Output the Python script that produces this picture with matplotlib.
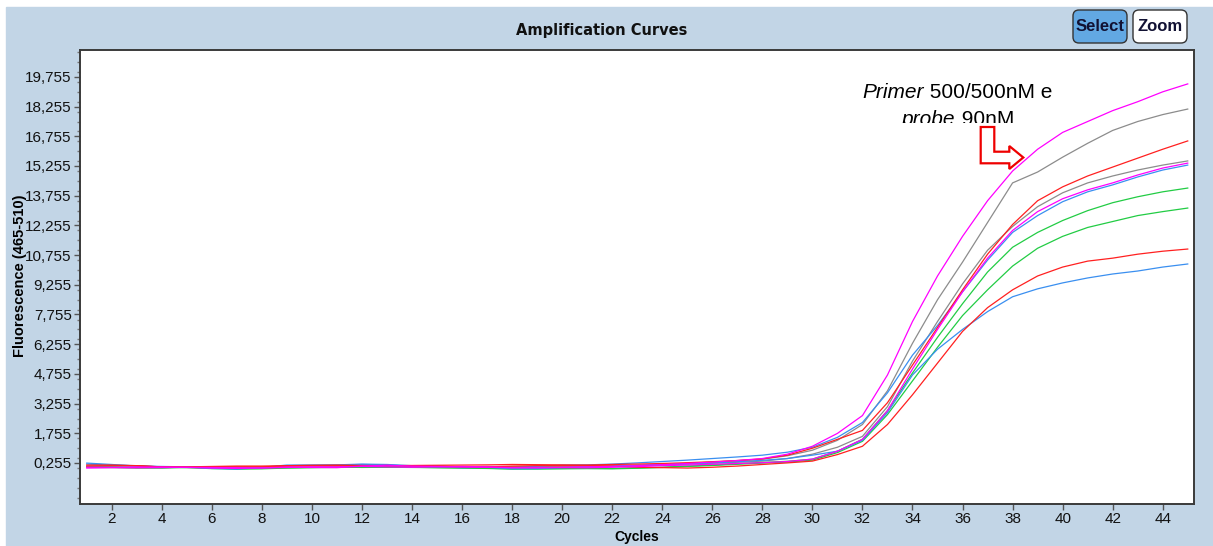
import matplotlib.pyplot as plt
from matplotlib.patches import Rectangle, FancyBboxPatch, Polygon
from matplotlib.ticker import FixedLocator, MultipleLocator

plt.rcParams['font.family'] = ['Liberation Sans Narrow', 'Liberation Sans', 'DejaVu Sans']

# ---- data ----
cycles = list(range(1, 46))

magenta_1 = [0, 20, 20, 30, 40, 30, 20, 0, 30, 60, 60, 80, 60, 40, 60, 80, 60, 20, 10, 40,
             60, 80, 120, 170, 230, 300, 380,
             480, 700, 1100, 1750, 2650, 4700, 7400, 9700, 11700, 13500, 15000, 16100,
             16950, 17500, 18050, 18500, 19000, 19400]
gray_1 = [60, 40, 0, 0, 50, 60, 40, 30, 20, 40, 50, 30, 40, 60, 50, 40, 50, 60, 80, 70,
          60, 90, 130, 180, 230, 300, 370,
          450, 620, 900, 1400, 2200, 3900, 6300, 8500, 10400, 12400, 14400, 14950,
          15700, 16400, 17050, 17500, 17850, 18130]
red_1 = [100, 120, 120, 50, 60, 80, 100, 100, 120, 140, 150, 130, 120, 130, 140, 150, 160, 180, 170, 160,
         150, 180, 200, 230, 270, 320, 380,
         460, 650, 1000, 1450, 1900, 3300, 5200, 7100, 9000, 10800, 12300, 13500,
         14200, 14750, 15200, 15650, 16100, 16520]
gray_2 = [30, 20, 0, 10, 60, 70, 60, 40, 30, 30, 40, 50, 60, 50, 40, 60, 80, 60, 50, 70,
          90, 100, 120, 160, 200, 240, 290,
          350, 480, 700, 1050, 1600, 3100, 5400, 7400, 9300, 11000, 12200, 13200,
          13900, 14400, 14750, 15050, 15300, 15510]
magenta_2 = [40, 40, 50, 50, 30, 0, -20, 10, 50, 30, 20, 100, 140, 100, 80, 60, 40, 20, 30, 20,
             10, 40, 70, 120, 150, 190, 230,
             270, 330, 450, 850, 1450, 2900, 5000, 7000, 8900, 10600, 12000, 12950,
             13600, 14050, 14400, 14800, 15150, 15400]
blue_1 = [250, 180, 100, 80, 60, 0, -30, 40, 150, 150, 160, 200, 180, 120, 100, 60, 40, 30, 90, 150,
          160, 200, 260, 330, 400, 480, 560,
          650, 800, 1050, 1550, 2300, 3800, 5700, 7200, 8900, 10500, 11900, 12750,
          13450, 13950, 14300, 14700, 15050, 15300]
green_1 = [80, 60, 40, 30, 30, -30, -50, -20, 20, 30, 40, 50, 60, 40, 20, 0, -20, -50, -30, -20,
           -10, -20, 10, 40, 100, 150, 220,
           280, 340, 450, 850, 1450, 2900, 4800, 6600, 8300, 9900, 11150, 11900,
           12500, 13000, 13400, 13700, 13950, 14140]
green_2 = [70, 50, 30, 20, 20, 0, -40, -40, 0, 20, 30, 40, 40, 30, 20, 10, -10, -40, -50, -40,
           -30, -40, -10, 30, 80, 130, 190,
           250, 300, 400, 780, 1350, 2700, 4400, 6100, 7700, 9000, 10200, 11100,
           11700, 12150, 12450, 12750, 12950, 13130]
red_2 = [150, 150, 120, 60, 50, 50, 50, 60, 90, 110, 120, 120, 130, 100, 80, 60, 60, 100, 120, 120,
         130, 100, 40, 20, 0, 40, 100,
         180, 260, 350, 680, 1100, 2200, 3700, 5300, 6900, 8100, 9000, 9700,
         10150, 10450, 10600, 10800, 10950, 11060]
blue_2 = [200, 150, 120, 60, 60, -20, -50, 20, 120, 140, 150, 180, 160, 90, 60, 20, 40, -40, -30, 20,
          60, 100, 140, 170, 210, 260, 320,
          390, 480, 650, 850, 1400, 2800, 4700, 6000, 7000, 7900, 8650, 9050,
          9350, 9600, 9800, 9950, 10150, 10305]

series = [
    (gray_2, "#8c8c8c"), (gray_1, "#8c8c8c"),
    (green_1, "#22cc44"), (green_2, "#22cc44"),
    (blue_1, "#3a8ff0"), (blue_2, "#3a8ff0"),
    (red_1, "#ff2020"), (red_2, "#ff2020"),
    (magenta_2, "#ff00ff"), (magenta_1, "#ff00ff"),
]

y_ticks = [255, 1755, 3255, 4755, 6255, 7755, 9255, 10755, 12255, 13755, 15255, 16755, 18255, 19755]
x_ticks = list(range(2, 46, 2))

BG = "#c2d5e6"
W, H = 1213, 546


def fx(x):
    return x / W


def fy(y):
    return 1 - y / H


fig = plt.figure(figsize=(W / 100, H / 100), dpi=100, facecolor="white")
fig.patches.append(Rectangle((fx(6), 0), 1, fy(7), transform=fig.transFigure,
                             color=BG, zorder=-10))

ax = fig.add_axes([fx(80), fy(504), (1194 - 80) / W, (504 - 50) / H])
ax.set_facecolor("white")
for ys, col in series:
    ax.plot(cycles, ys, color=col, lw=0.9)

ax.set_xlim(0.73, 45.25)
ax.set_ylim(-1816, 21112)
ax.yaxis.set_major_locator(FixedLocator(y_ticks))
ax.yaxis.set_minor_locator(MultipleLocator(500))
ax.set_yticklabels([f"{v // 1000},{v % 1000:03d}" for v in y_ticks])
ax.set_xticks(x_ticks)
ax.tick_params(axis="both", which="major", labelsize=11, length=4, width=1,
               color="#555555", labelcolor="#111111", pad=2)
ax.tick_params(axis="y", which="minor", length=2.5, width=1, color="#777777")
for s in ax.spines.values():
    s.set_color("#3a3a3a")
    s.set_linewidth(1.4)

fig.text(fx(602), fy(30), "Amplification Curves", ha="center", va="center",
         fontsize=10.5, fontweight="bold", family="DejaVu Sans", color="#111111")
fig.text(fx(20), fy(276), "Fluorescence (465-510)", rotation=90, ha="center", va="center",
         fontsize=10.5, fontweight="bold", family="Liberation Sans")
fig.text(fx(637), fy(537), "Cycles", ha="center", va="center",
         fontsize=10, fontweight="bold", family="Liberation Sans")

# buttons
for x0, x1, label, fc in [(1073, 1127, "Select", "#62a8e3"), (1133, 1187, "Zoom", "white")]:
    fig.patches.append(FancyBboxPatch((fx(x0), fy(43)), (x1 - x0) / W, 33 / H,
                                      boxstyle=f"round,pad=0,rounding_size={6 / W}",
                                      mutation_aspect=W / H, transform=fig.transFigure,
                                      fc=fc, ec="#333333", lw=1.0))
    fig.text(fx((x0 + x1) / 2), fy(26.5), label, ha="center", va="center",
             fontsize=12, fontweight="bold", color="#111133")

# annotation text (second line is cut off in the original)
clip = Rectangle((0, fy(123)), 1, 123 / H, transform=fig.transFigure)
t1 = fig.text(fx(862), fy(98), "Primer", style="italic", fontsize=15,
              family="Liberation Sans", va="baseline")
fig.add_artist(plt.Annotation(" 500/500nM e", xy=(1, 0), xycoords=t1, va="bottom",
                              fontsize=15, family="Liberation Sans", annotation_clip=False))
t2 = fig.text(fx(902), fy(125), "probe", style="italic", fontsize=15,
              family="Liberation Sans", va="baseline")
t2.set_clip_path(clip)
a2 = fig.add_artist(plt.Annotation(" 90nM", xy=(1, 0), xycoords=t2, va="bottom",
                                   fontsize=15, family="Liberation Sans", annotation_clip=False))
a2.set_clip_path(clip)

arrow_px = [(980.7, 127), (994.3, 127), (994.3, 151.7), (1009.3, 151.7), (1009.3, 146),
            (1023.3, 157.5), (1009.3, 169), (1009.3, 163.3), (980.7, 163.3)]
fig.patches.append(Polygon([(fx(x), fy(y)) for x, y in arrow_px], closed=True,
                           transform=fig.transFigure, fc="white", ec="#ee0000", lw=1.6,
                           zorder=5))

fig.savefig("out.png", dpi=100)
